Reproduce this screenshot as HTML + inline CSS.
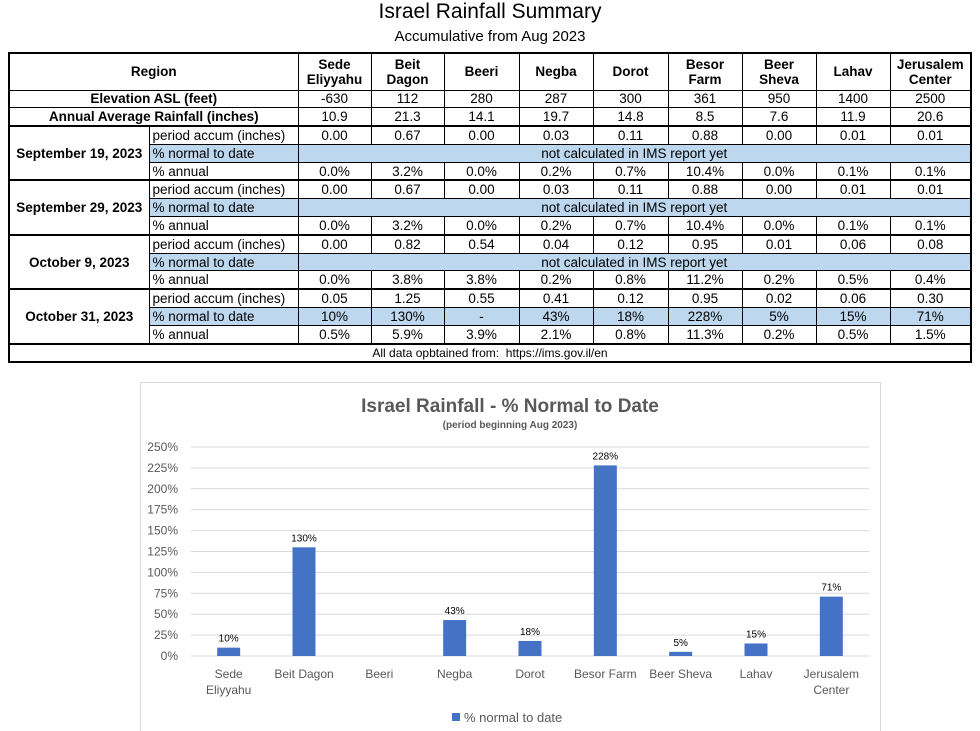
<!DOCTYPE html>
<html><head><meta charset="utf-8">
<style>
body{margin:0;width:980px;height:731px;background:#fff;position:relative;overflow:hidden;font-family:"Liberation Sans",Arial,sans-serif;}
#t1{position:absolute;left:0;width:980px;top:0;text-align:center;font-size:21px;color:#000;}
#t2{position:absolute;left:0;width:980px;top:28px;text-align:center;font-size:15px;color:#000;}
table{position:absolute;left:8px;top:52px;border-collapse:collapse;table-layout:fixed;font-size:13.5px;border:2px solid #000;}
td{border:1px solid #000;padding:0 3px;height:16.8px;line-height:15px;text-align:center;white-space:nowrap;overflow:hidden;}
td.b{font-weight:bold;}
td.l{text-align:left;}
tr.blue td.bl{background:#bdd7ee;}
tr.top td{border-top:2px solid #000;}
#chart{position:absolute;left:0;top:0;}
</style></head><body>
<div id="t1">Israel Rainfall Summary</div>
<div id="t2">Accumulative from Aug 2023</div>
<table>
<colgroup><col style="width:140px"><col style="width:149px"><col style="width:73px"><col style="width:73px"><col style="width:75px"><col style="width:74px"><col style="width:75px"><col style="width:74px"><col style="width:74px"><col style="width:74px"><col style="width:81px"></colgroup>
<tr style="height:37px"><td colspan="2" class="b">Region</td><td class="b">Sede<br>Eliyyahu</td><td class="b">Beit<br>Dagon</td><td class="b">Beeri</td><td class="b">Negba</td><td class="b">Dorot</td><td class="b">Besor<br>Farm</td><td class="b">Beer<br>Sheva</td><td class="b">Lahav</td><td class="b">Jerusalem<br>Center</td></tr>
<tr><td colspan="2" class="b">Elevation ASL (feet)</td><td>-630</td><td>112</td><td>280</td><td>287</td><td>300</td><td>361</td><td>950</td><td>1400</td><td>2500</td></tr>
<tr><td colspan="2" class="b">Annual Average Rainfall (inches)</td><td>10.9</td><td>21.3</td><td>14.1</td><td>19.7</td><td>14.8</td><td>8.5</td><td>7.6</td><td>11.9</td><td>20.6</td></tr>

<tr class="top"><td rowspan="3" class="b">September 19, 2023</td><td class="l">period accum (inches)</td><td>0.00</td><td>0.67</td><td>0.00</td><td>0.03</td><td>0.11</td><td>0.88</td><td>0.00</td><td>0.01</td><td>0.01</td></tr>
<tr class="blue"><td class="l bl">% normal to date</td><td colspan="9" class="bl">not calculated in IMS report yet</td></tr>
<tr><td class="l">% annual</td><td>0.0%</td><td>3.2%</td><td>0.0%</td><td>0.2%</td><td>0.7%</td><td>10.4%</td><td>0.0%</td><td>0.1%</td><td>0.1%</td></tr>

<tr class="top"><td rowspan="3" class="b">September 29, 2023</td><td class="l">period accum (inches)</td><td>0.00</td><td>0.67</td><td>0.00</td><td>0.03</td><td>0.11</td><td>0.88</td><td>0.00</td><td>0.01</td><td>0.01</td></tr>
<tr class="blue"><td class="l bl">% normal to date</td><td colspan="9" class="bl">not calculated in IMS report yet</td></tr>
<tr><td class="l">% annual</td><td>0.0%</td><td>3.2%</td><td>0.0%</td><td>0.2%</td><td>0.7%</td><td>10.4%</td><td>0.0%</td><td>0.1%</td><td>0.1%</td></tr>

<tr class="top"><td rowspan="3" class="b">October 9, 2023</td><td class="l">period accum (inches)</td><td>0.00</td><td>0.82</td><td>0.54</td><td>0.04</td><td>0.12</td><td>0.95</td><td>0.01</td><td>0.06</td><td>0.08</td></tr>
<tr class="blue"><td class="l bl">% normal to date</td><td colspan="9" class="bl">not calculated in IMS report yet</td></tr>
<tr><td class="l">% annual</td><td>0.0%</td><td>3.8%</td><td>3.8%</td><td>0.2%</td><td>0.8%</td><td>11.2%</td><td>0.2%</td><td>0.5%</td><td>0.4%</td></tr>

<tr class="top"><td rowspan="3" class="b">October 31, 2023</td><td class="l">period accum (inches)</td><td>0.05</td><td>1.25</td><td>0.55</td><td>0.41</td><td>0.12</td><td>0.95</td><td>0.02</td><td>0.06</td><td>0.30</td></tr>
<tr class="blue"><td class="l bl">% normal to date</td><td class="bl">10%</td><td class="bl">130%</td><td class="bl">-</td><td class="bl">43%</td><td class="bl">18%</td><td class="bl">228%</td><td class="bl">5%</td><td class="bl">15%</td><td class="bl">71%</td></tr>
<tr><td class="l">% annual</td><td>0.5%</td><td>5.9%</td><td>3.9%</td><td>2.1%</td><td>0.8%</td><td>11.3%</td><td>0.2%</td><td>0.5%</td><td>1.5%</td></tr>
<tr class="top"><td colspan="11" style="font-size:12px">All data opbtained from:&nbsp; https://ims.gov.il/en</td></tr>
</table>

<svg id="chart" width="980" height="731" font-family="Liberation Sans, Arial, sans-serif">
<rect x="140.5" y="382.5" width="740" height="360" fill="#fff" stroke="#d9d9d9"/>
<text x="510" y="412" text-anchor="middle" font-size="19" font-weight="bold" fill="#595959">Israel Rainfall - % Normal to Date</text>
<text x="510" y="428" text-anchor="middle" font-size="10" font-weight="bold" fill="#595959">(period beginning Aug 2023)</text>
<g id="grid"></g><g id="bars"></g>
<rect x="452" y="713" width="8" height="8" fill="#4472c4"/>
<text x="464" y="722" font-size="13" fill="#595959">% normal to date</text>
</svg>
<script>
const categories=[["Sede","Eliyyahu"],["Beit Dagon"],["Beeri"],["Negba"],["Dorot"],["Besor Farm"],["Beer Sheva"],["Lahav"],["Jerusalem","Center"]];
const values=[10,130,null,43,18,228,5,15,71];
const labels=["10%","130%","","43%","18%","228%","5%","15%","71%"];
const ticks=[0,25,50,75,100,125,150,175,200,225,250];
const NS="http://www.w3.org/2000/svg";
const x0=191,x1=869,y0=656,yTop=447,vmax=250;
const y=v=>y0-(v/vmax)*(y0-yTop);
const bw=(x1-x0)/categories.length;
const xc=i=>x0+bw*(i+0.5);
const grid=document.getElementById('grid'),bars=document.getElementById('bars');
function mk(tag,attrs,parent){const e=document.createElementNS(NS,tag);for(const k in attrs)e.setAttribute(k,attrs[k]);parent.appendChild(e);return e;}
ticks.forEach(t=>{
  const l=mk('line',{x1:x0,x2:x1,y1:y(t),y2:y(t),stroke:'#d9d9d9','stroke-width':1},grid);
  
  
  const tx=mk('text',{x:178,y:y(t)+4,'text-anchor':'end','font-size':12,fill:'#595959'},grid);
  tx.textContent=t+'%';
  
  
});
categories.forEach((c,i)=>{
  const v=values[i];
  if(v!==null&&v!==undefined){
    const r=mk('rect',{x:xc(i)-11.5,y:y(v),width:23,height:y0-y(v),fill:'#4472c4'},bars);
    
    
    const lt=mk('text',{x:xc(i),y:y(v)-6,'text-anchor':'middle','font-size':10,fill:'#000'},bars);
    lt.textContent=labels[i];
    
    
  }
  c.forEach((s,j)=>{
    const t=mk('text',{x:xc(i),y:678+j*16,'text-anchor':'middle','font-size':12,fill:'#595959'},bars);
    t.textContent=s;
    
    
  });
});
</script>
</body></html>
